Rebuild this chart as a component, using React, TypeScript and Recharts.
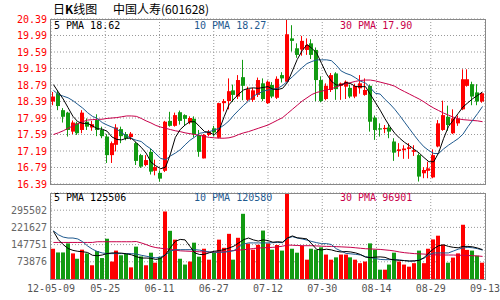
import React from 'react';
import { ComposedChart, Bar, Line, XAxis, YAxis, CartesianGrid } from 'recharts';

const FONT = '"DejaVu Sans Mono", monospace';
const CJK = '"Noto Sans CJK SC", sans-serif';
const UP = '#ff0000';
const DOWN = '#129a12';
const C5 = '#000000';
const C10 = '#1f5a8f';
const C30 = '#c8004a';
const GRID = '#999999';
const FRAME = '#888888';

const dateLabels = ['12-05-09', '05-25', '06-11', '06-27', '07-12', '07-30', '08-14', '08-29', '09-13'];
const priceTicks = [16.39, 16.79, 17.19, 17.59, 17.99, 18.39, 18.79, 19.19, 19.59, 19.99, 20.39];
const volumeTicks = [73876, 147751, 221627, 295502];
const volumeMax = 369380;

const opens = [
  18.39, 18.59, 18.18, 18.12, 17.66, 17.86, 17.7, 17.9, 17.76, 17.94,
  17.7, 17.54, 17.09, 17.34, 17.72, 17.6, 17.53, 17.38, 17.09, 16.85,
  17.17, 16.71, 16.66, 16.71, 17.92, 17.8, 18.13, 18.06, 17.88, 17.97,
  17.58, 17.01, 17.58, 17.74, 17.51, 18.35, 18.4, 18.66, 18.51, 18.98,
  18.43, 18.43, 18.55, 18.83, 18.35, 18.79, 18.48, 19.03, 18.87, 19.92,
  19.68, 19.65, 19.64, 19.8, 19.64, 18.91, 18.45, 18.67, 19.07, 18.77,
  18.75, 18.72, 18.51, 18.71, 18.55, 18.77, 18.0, 17.74, 17.72, 17.76,
  17.42, 17.19, 17.21, 17.24, 17.17, 17.09, 16.65, 16.71, 16.55, 17.3,
  17.7, 18.02, 17.62, 17.86, 18.2, 18.77, 18.81, 18.61, 18.39,
];
const closes = [
  18.51, 18.28, 18.02, 17.7, 17.88, 17.62, 18.12, 17.78, 17.84, 17.7,
  17.55, 17.09, 17.38, 17.76, 17.55, 17.49, 17.61, 16.95, 16.81, 16.97,
  16.69, 16.8, 16.52, 17.9, 17.8, 18.06, 17.92, 17.97, 17.99, 17.6,
  17.17, 17.58, 17.66, 17.64, 18.35, 18.4, 18.64, 18.55, 18.91, 18.77,
  18.69, 18.66, 18.91, 18.45, 18.87, 18.51, 18.94, 18.95, 20.02, 19.86,
  19.52, 19.86, 19.76, 19.52, 18.91, 18.4, 18.77, 19.03, 18.69, 18.83,
  18.87, 18.51, 18.77, 18.83, 18.67, 17.9, 17.7, 17.71, 17.75, 17.66,
  17.15, 17.23, 17.25, 17.28, 17.21, 16.57, 16.73, 16.77, 17.09, 17.86,
  18.06, 17.82, 17.98, 17.98, 18.93, 18.93, 18.51, 18.39, 18.59,
];
const highs = [
  18.62, 18.66, 18.23, 18.14, 17.93, 17.9, 18.18, 17.98, 17.92, 18.08,
  17.78, 17.6, 17.42, 17.84, 17.78, 17.65, 17.65, 17.41, 17.12, 17.09,
  17.24, 16.98, 16.72, 17.92, 18.14, 18.12, 18.17, 18.08, 18.03, 18.03,
  17.7, 17.6, 17.7, 17.8, 18.36, 18.45, 18.95, 18.8, 19.03, 19.4,
  18.75, 18.72, 18.97, 18.95, 18.9, 18.86, 19.0, 19.1, 20.39, 20.24,
  19.8, 19.98, 19.92, 19.9, 19.7, 19.0, 18.83, 19.08, 19.1, 18.85,
  18.9, 18.8, 18.82, 19.03, 18.95, 18.8, 18.05, 17.86, 17.82, 17.82,
  17.5, 17.38, 17.33, 17.38, 17.33, 17.13, 16.8, 16.93, 17.23, 17.94,
  18.41, 18.29, 18.2, 18.05, 19.17, 19.17, 18.87, 18.81, 18.62,
];
const lows = [
  18.3, 18.18, 17.88, 17.54, 17.6, 17.58, 17.62, 17.7, 17.68, 17.55,
  17.5, 16.9, 16.9, 17.18, 17.38, 17.45, 17.46, 16.85, 16.78, 16.82,
  16.62, 16.6, 16.45, 16.68, 17.78, 17.78, 17.83, 17.8, 17.84, 17.52,
  17.05, 17.01, 17.55, 17.55, 17.5, 18.15, 18.2, 18.38, 18.45, 18.42,
  18.4, 18.38, 18.5, 18.4, 18.33, 18.47, 18.45, 18.85, 18.85, 19.6,
  19.45, 19.5, 19.52, 19.42, 18.4, 18.37, 18.42, 18.62, 18.43, 18.43,
  18.45, 18.47, 18.47, 18.58, 18.53, 17.66, 17.46, 17.54, 17.62, 17.5,
  16.95, 17.05, 17.0, 17.0, 17.07, 16.45, 16.53, 16.53, 16.53, 17.28,
  17.68, 17.68, 17.6, 17.8, 18.18, 18.75, 18.3, 18.3, 18.36,
];
const volumes = [
  130000, 114000, 114000, 153000, 110000, 87000, 126000, 110000, 59000, 120000,
  90000, 173000, 75000, 122000, 102000, 108000, 50000, 139000, 97000, 59000,
  113000, 70000, 95000, 290000, 207000, 169000, 87000, 62000, 75000, 156000,
  96000, 130000, 83000, 113000, 169000, 134000, 194000, 83000, 177000, 280000,
  152000, 126000, 147000, 208000, 153000, 126000, 146000, 122000, 368000, 130000,
  113000, 143000, 83000, 130000, 126000, 136000, 105000, 83000, 93000, 105000,
  105000, 93000, 83000, 68000, 75000, 153000, 126000, 40000, 40000, 62000,
  113000, 75000, 62000, 53000, 68000, 122000, 68000, 130000, 170000, 186000,
  147000, 70000, 92000, 110000, 233000, 125000, 122000, 100000, 70000,
];
const ma5 = [
  18.8, 18.62, 18.45, 18.24, 18.03, 17.9, 17.86, 17.86, 17.8, 17.73,
  17.72, 17.67, 17.53, 17.47, 17.46, 17.5, 17.5, 17.39, 17.28, 17.14,
  16.92, 16.83, 16.76, 16.8, 17.12, 17.52, 17.71, 17.82, 17.9, 17.9,
  17.78, 17.66, 17.64, 17.58, 17.7, 18.02, 18.31, 18.45, 18.57, 18.67,
  18.71, 18.72, 18.71, 18.73, 18.75, 18.69, 18.68, 18.71, 18.85, 19.13,
  19.41, 19.62, 19.77, 19.68, 19.56, 19.31, 19.06, 18.88, 18.79, 18.79,
  18.85, 18.82, 18.75, 18.75, 18.75, 18.56, 18.37, 18.18, 17.97, 17.78,
  17.62, 17.5, 17.4, 17.32, 17.23, 17.14, 17.03, 16.93, 16.93, 17.15,
  17.49, 17.78, 17.94, 18.1, 18.26, 18.36, 18.46, 18.54, 18.62,
];
const ma10 = [
  18.66, 18.56, 18.52, 18.48, 18.41, 18.32, 18.23, 18.12, 18.03, 17.98,
  17.88, 17.82, 17.77, 17.72, 17.63, 17.56, 17.49, 17.45, 17.42, 17.32,
  17.24, 17.12, 17.01, 16.98, 17.07, 17.14, 17.22, 17.34, 17.45, 17.53,
  17.62, 17.64, 17.66, 17.7, 17.74, 17.82, 17.92, 18.06, 18.18, 18.3,
  18.4, 18.52, 18.58, 18.64, 18.67, 18.69, 18.71, 18.78, 18.88, 18.99,
  19.1, 19.21, 19.31, 19.36, 19.4, 19.4, 19.4, 19.38, 19.27, 19.13,
  19.07, 19.03, 18.96, 18.88, 18.84, 18.72, 18.59, 18.57, 18.44, 18.33,
  18.2, 18.05, 17.89, 17.73, 17.57, 17.42, 17.29, 17.2, 17.13, 17.13,
  17.24, 17.33, 17.41, 17.49, 17.6, 17.78, 17.94, 18.1, 18.27,
];
const ma30 = [
  17.59, 17.63, 17.68, 17.74, 17.8, 17.85, 17.9, 17.94, 17.95, 17.96,
  17.96, 17.98, 17.99, 18.0, 18.02, 18.04, 18.04, 18.03, 17.98, 17.92,
  17.87, 17.81, 17.77, 17.74, 17.71, 17.68, 17.66, 17.63, 17.61, 17.59,
  17.57, 17.54, 17.52, 17.51, 17.5, 17.5, 17.51, 17.54, 17.59, 17.63,
  17.66, 17.7, 17.74, 17.78, 17.82, 17.88, 17.94, 18.0, 18.1, 18.2,
  18.3, 18.4, 18.48, 18.56, 18.61, 18.64, 18.67, 18.7, 18.74, 18.79,
  18.82, 18.85, 18.88, 18.9, 18.91, 18.91, 18.89, 18.86, 18.83, 18.8,
  18.76, 18.69, 18.63, 18.57, 18.51, 18.45, 18.38, 18.3, 18.23, 18.17,
  18.11, 18.06, 18.01, 17.97, 17.95, 17.94, 17.93, 17.92, 17.9,
];
const volMa5 = [
  205000, 169000, 148000, 131000, 123000, 119000, 117000, 114000, 102000, 100000,
  103000, 109000, 112000, 112000, 111000, 108000, 104000, 96000, 90000, 90000,
  89000, 84000, 88000, 105000, 135000, 162000, 170000, 168000, 140000, 112000,
  105000, 106000, 113000, 119000, 122000, 126000, 133000, 141000, 155000, 169000,
  176000, 168000, 163000, 168000, 165000, 158000, 160000, 158000, 176000, 185000,
  177000, 175000, 172000, 150000, 127000, 125000, 128000, 125000, 119000, 116000,
  118000, 116000, 112000, 105000, 94000, 92000, 94000, 95000, 93000, 85000,
  82000, 80000, 79000, 77000, 78000, 80000, 92000, 112000, 130000, 143000,
  147000, 140000, 136000, 134000, 140000, 140000, 138000, 133000, 126000,
];
const volMa10 = [
  207000, 190000, 180000, 176000, 176000, 172000, 160000, 142000, 128000, 118000,
  112000, 109000, 109000, 109000, 109000, 109000, 109000, 107000, 102000, 98000,
  94000, 91000, 94000, 104000, 120000, 126000, 126000, 126000, 126000, 126000,
  124000, 120000, 116000, 115000, 115000, 115000, 118000, 122000, 138000, 150000,
  155000, 155000, 155000, 155000, 155000, 156000, 157000, 156000, 175000, 182000,
  176000, 172000, 167000, 161000, 156000, 152000, 152000, 148000, 130000, 120000,
  110000, 108000, 106000, 103000, 96000, 92000, 88000, 84000, 83000, 83000,
  83000, 82000, 79000, 77000, 77000, 82000, 89000, 104000, 112000, 112000,
  112000, 112000, 120000, 128000, 133000, 136000, 134000, 130000, 124000,
];
const volMa30 = [
  157000, 157000, 157000, 157000, 157000, 157000, 157000, 157000, 157000, 160000,
  160000, 160000, 160000, 160000, 160000, 160000, 160000, 161000, 155000, 148000,
  140000, 135000, 132000, 130000, 127000, 124000, 121000, 120000, 119000, 118000,
  117000, 116000, 116000, 115000, 116000, 118000, 120000, 122000, 124000, 126000,
  128000, 131000, 133000, 134000, 135000, 136000, 138000, 141000, 146000, 145000,
  144000, 143000, 143000, 143000, 142000, 141000, 140000, 140000, 139000, 138000,
  137000, 136000, 134000, 132000, 130000, 129000, 128000, 127000, 125000, 123000,
  120000, 116000, 113000, 111000, 109000, 108000, 107000, 105000, 104000, 103000,
  103000, 103000, 103000, 102000, 102000, 101000, 100000, 99000, 97000,
];

const rows = closes.map((close, i) => ({
  x: i,
  open: opens[i],
  close,
  high: highs[i],
  low: lows[i],
  range: [lows[i], highs[i]],
  ma5: ma5[i],
  ma10: ma10[i],
  ma30: ma30[i],
  vol: volumes[i],
  vma5: volMa5[i],
  vma10: volMa10[i],
  vma30: volMa30[i],
}));

const step = rows.length / (dateLabels.length - 1);
const xDomain = [-0.5, rows.length - 0.5];
const xTicks = dateLabels.map((_, k) => -0.5 + k * step);
const dateOf = (v: number) => dateLabels[Math.round((v + 0.5) / step)] ?? '';

function Candle(props: any) {
  const { x, y, width, height, payload } = props;
  if (x == null || y == null || !payload) return null;
  const { open, close, high, low } = payload;
  const top = Math.min(y, y + height);
  const h = Math.abs(height);
  const span = high - low || 1;
  const py = (v: number) => top + ((high - v) / span) * h;
  const color = close >= open ? UP : DOWN;
  const c = Math.round(x + width / 2);
  const bTop = py(Math.max(open, close));
  const bBot = py(Math.min(open, close));
  return (
    <g>
      <line x1={c - 0.5} x2={c - 0.5} y1={top} y2={top + h} stroke={color} strokeWidth={1} />
      <rect x={c - 2} y={bTop} width={4} height={Math.max(1, bBot - bTop)} fill={color} />
    </g>
  );
}

function VolBar(props: any) {
  const { x, y, width, height, payload } = props;
  if (x == null || y == null || !payload) return null;
  const c = Math.round(x + width / 2);
  const color = payload.close >= payload.open ? UP : DOWN;
  return <rect x={c - 2} y={y} width={4} height={Math.max(0, height)} fill={color} />;
}

const legend = (left: number, top: number, color: string, text: string) => (
  <div
    style={{
      position: 'absolute',
      left,
      top,
      color,
      fontFamily: FONT,
      fontSize: 10,
      lineHeight: '12px',
      whiteSpace: 'pre',
    }}
  >
    {text}
  </div>
);

export default function App() {
  return (
    <div style={{ position: 'absolute', left: 0, top: 0, width: 500, height: 300, background: '#fff', overflow: 'hidden' }}>
      <div style={{ position: 'absolute', left: 53, top: 2, fontFamily: CJK, fontSize: 12, lineHeight: '13px', color: '#000', whiteSpace: 'pre' }}>
        日<b>K</b>线图
      </div>
      <div style={{ position: 'absolute', left: 113, top: 2, fontFamily: CJK, fontSize: 12, lineHeight: '13px', color: '#000', whiteSpace: 'pre' }}>
        中国人寿(601628)
      </div>

      <div style={{ position: 'absolute', left: 0, top: 0 }}>
        <ComposedChart width={500} height={190} data={rows} margin={{ top: 19, right: 15, bottom: 6, left: 0 }}>
          <CartesianGrid stroke={GRID} strokeDasharray="1 2" />
          <XAxis type="number" dataKey="x" domain={xDomain} ticks={xTicks} allowDataOverflow hide />
          <YAxis
            type="number"
            domain={[16.39, 20.39]}
            ticks={priceTicks}
            allowDataOverflow
            width={51}
            axisLine={false}
            tickLine={false}
            tickSize={0}
            tickMargin={4}
            interval={0}
            tickFormatter={(v: number) => v.toFixed(2)}
            tick={{ fill: '#ff0000', fontSize: 10, fontFamily: FONT }}
          />
          <Bar dataKey="range" barSize={4} shape={<Candle />} isAnimationActive={false} />
          <Line type="linear" dataKey="ma30" stroke={C30} strokeWidth={1} dot={false} isAnimationActive={false} />
          <Line type="linear" dataKey="ma10" stroke={C10} strokeWidth={1} dot={false} isAnimationActive={false} />
          <Line type="linear" dataKey="ma5" stroke={C5} strokeWidth={1} dot={false} isAnimationActive={false} />
        </ComposedChart>
      </div>

      <div style={{ position: 'absolute', left: 0, top: 190 }}>
        <ComposedChart width={500} height={110} data={rows} margin={{ top: 3, right: 15, bottom: 0, left: 0 }}>
          <CartesianGrid stroke={GRID} strokeDasharray="1 2" />
          <XAxis
            type="number"
            dataKey="x"
            domain={xDomain}
            ticks={xTicks}
            allowDataOverflow
            interval={0}
            height={21}
            axisLine={false}
            tickLine={false}
            tickSize={0}
            tickMargin={6}
            tickFormatter={dateOf}
            tick={{ fill: '#555', fontSize: 10, fontFamily: FONT }}
          />
          <YAxis
            type="number"
            domain={[0, volumeMax]}
            ticks={volumeTicks}
            allowDataOverflow
            width={51}
            axisLine={false}
            tickLine={false}
            tickSize={0}
            tickMargin={4}
            interval={0}
            tick={{ fill: '#666', fontSize: 10, fontFamily: FONT }}
          />
          <Bar dataKey="vol" barSize={4} shape={<VolBar />} isAnimationActive={false} />
          <Line type="linear" dataKey="vma30" stroke={C30} strokeWidth={1} dot={false} isAnimationActive={false} />
          <Line type="linear" dataKey="vma10" stroke={C10} strokeWidth={1} dot={false} isAnimationActive={false} />
          <Line type="linear" dataKey="vma5" stroke={C5} strokeWidth={1} dot={false} isAnimationActive={false} />
        </ComposedChart>
      </div>

      <div style={{ position: 'absolute', left: 50, top: 19, width: 436, height: 166, boxSizing: 'border-box', border: `1px solid ${FRAME}`, pointerEvents: 'none' }} />
      <div style={{ position: 'absolute', left: 50, top: 193, width: 436, height: 87, boxSizing: 'border-box', border: `1px solid ${FRAME}`, pointerEvents: 'none' }} />

      {legend(54, 20, '#000', '5 PMA 18.62')}
      {legend(194, 20, C10, '10 PMA 18.27')}
      {legend(340, 20, C30, '30 PMA 17.90')}
      {legend(54, 192, '#000', '5 PMA 125506')}
      {legend(194, 192, C10, '10 PMA 120580')}
      {legend(340, 192, C30, '30 PMA 96901')}
    </div>
  );
}
